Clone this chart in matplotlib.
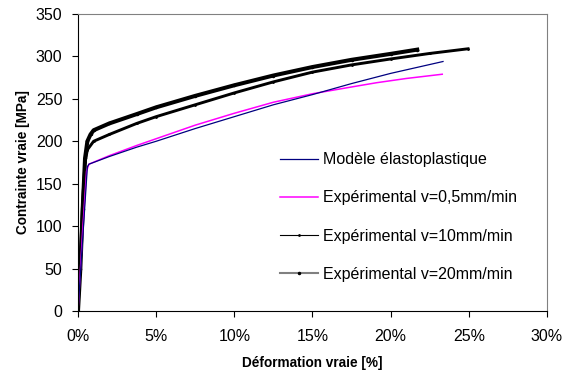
import numpy as np
import matplotlib.pyplot as plt
from matplotlib.lines import Line2D
from matplotlib.ticker import FuncFormatter

plt.rcParams['font.family'] = ['Liberation Sans', 'DejaVu Sans']

# strain in %, stress in MPa
eps_model = [0, 0.6, 0.7, 2, 3.75, 5, 7.5, 10, 12.5, 15, 17.5, 20, 23.35]
sig_model = [0, 170, 173, 182, 193, 200, 215, 229, 243, 255, 268, 280, 294]

eps_05 = [0, 0.3, 0.55, 0.7, 2, 3.75, 5, 7.5, 10, 12.5, 15, 17.5, 19.1, 21, 23.3]
sig_05 = [0, 95, 165, 173, 183, 195, 203, 219, 233, 246, 256, 264, 269, 274, 279]

eps_10 = [0, 0.15, 0.3, 0.45, 0.6, 1, 2, 3.75, 5, 7.5, 10, 12.5, 15, 17.5, 20, 22.5, 24.95]
sig_10 = [0, 60, 130, 175, 190, 200, 208, 221, 229, 243, 257, 270, 281.5, 290, 297, 303.5, 309]

eps_20 = [0, 0.15, 0.3, 0.45, 0.6, 0.8, 1, 2, 3.75, 5, 7.5, 10, 12.5, 15, 17.5, 20, 21.7]
sig_20 = [0, 50, 120, 180, 200, 208, 213, 221, 232, 240, 253.5, 266, 277.5, 287.5, 296, 303, 308]

labels = ["Modèle élastoplastique", "Expérimental v=0,5mm/min",
          "Expérimental v=10mm/min", "Expérimental v=20mm/min"]

fig = plt.figure(figsize=(5.66, 3.70), dpi=100)
ax = fig.add_axes([0.1378, 0.1595, 0.8286, 0.8027])

ax.plot(eps_20, sig_20, color='black', lw=2.9, marker='.', ms=3, solid_joinstyle='round')
ax.plot(eps_10, sig_10, color='black', lw=2.1, marker='.', ms=2, solid_joinstyle='round')
ax.plot(eps_05, sig_05, color='#ff00ff', lw=1.1)
ax.plot(eps_model, sig_model, color='#000080', lw=0.9)

ax.set_xlim(0, 30)
ax.set_ylim(0, 350)
ax.set_xticks(np.arange(0, 31, 5))
ax.set_yticks(np.arange(0, 351, 50))
ax.xaxis.set_major_formatter(FuncFormatter(lambda v, p: f"{v:.0f}%"))

for s in ['top', 'right']:
    ax.spines[s].set_color('#808080')
ax.tick_params(direction='out', length=4.3, width=0.8, labelsize=11.5)
ax.tick_params(axis='x', pad=9)
ax.tick_params(axis='y', pad=7)

ax.set_xlabel("Déformation vraie [%]", fontsize=9.8, fontweight='bold', labelpad=8)
ax.set_ylabel("Contrainte vraie [MPa]", fontsize=9.8, fontweight='bold', labelpad=4)

handles = [
    Line2D([], [], color='#000080', lw=0.9),
    Line2D([], [], color='#ff00ff', lw=1.1),
    Line2D([], [], color='black', lw=0.8, marker='.', ms=2),
    Line2D([], [], color='#808080', lw=1.5, marker='.', ms=3, mfc='black', mec='black'),
]
ax.legend(handles, labels, loc='upper left', bbox_to_anchor=(0.417, 0.556),
          frameon=False, fontsize=11.5, handlelength=2.38, handletextpad=0.31,
          labelspacing=1.45, borderaxespad=0)

fig.savefig("out.png", dpi=100)
